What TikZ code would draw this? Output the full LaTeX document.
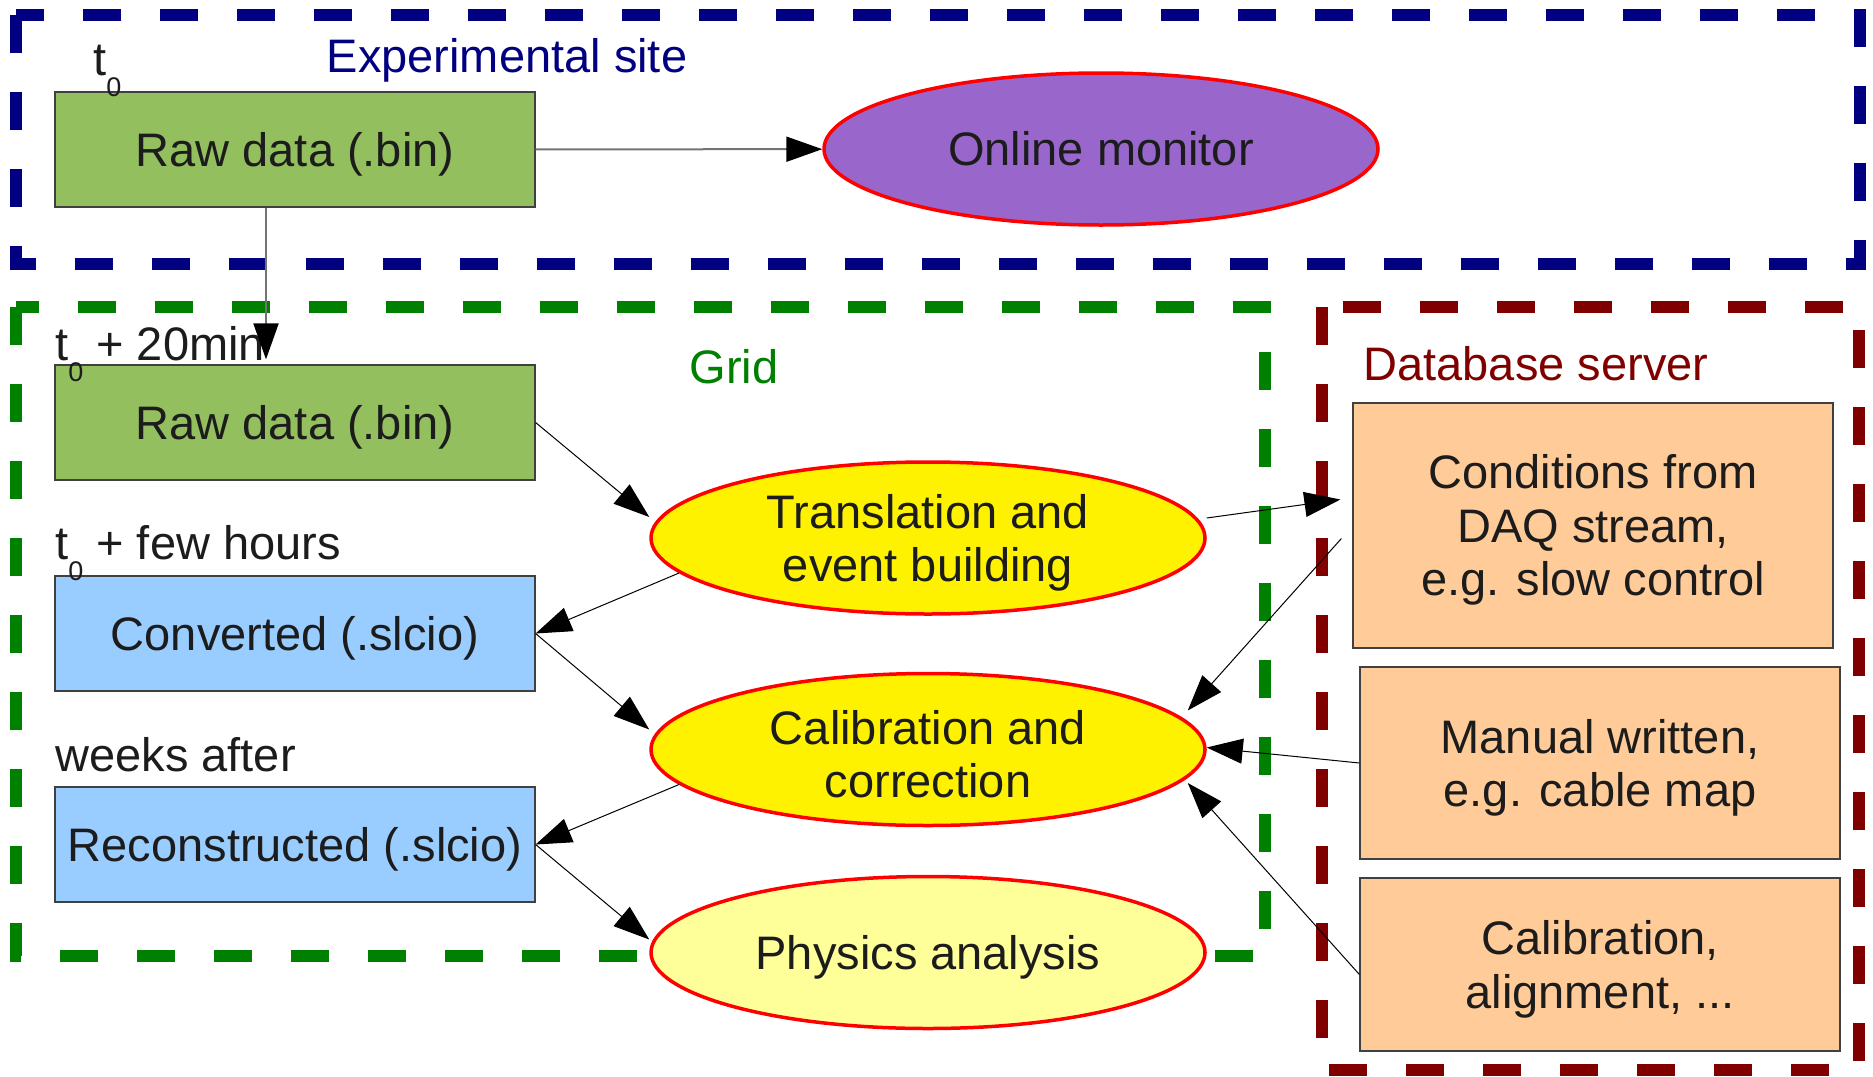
\documentclass[tikz,border=0pt]{standalone}
\usepackage{fontspec}
\setmainfont{Liberation Sans}
\usepackage{tikz}
\usetikzlibrary{shapes.geometric, arrows.meta, positioning, calc}
\definecolor{sitenavy}{HTML}{000080}
\definecolor{gridgreen}{HTML}{008000}
\definecolor{dbred}{HTML}{800000}
\definecolor{rawgreen}{HTML}{93BF5F}
\definecolor{lcioblue}{HTML}{99CCFF}
\definecolor{dbpeach}{HTML}{FFCC99}
\definecolor{monpurple}{HTML}{9966CC}
\definecolor{paleyellow}{HTML}{FFFF99}
\definecolor{inkgray}{HTML}{1C1C1C}

\newcommand{\tnull}{t\raisebox{-10.5pt}{\fontsize{13.5pt}{13.5pt}\selectfont 0}}
\newcommand{\lift}{\rule{0pt}{0.93em}}

\begin{document}
\begin{tikzpicture}[x=0.5pt, y=-0.5pt,
  font=\fontsize{23.5pt}{26.75pt}\selectfont, text=inkgray,
  frame/.style={line width=6pt, dash pattern=on 19pt off 19.5pt},
  databox/.style={rectangle, draw=black!75, line width=0.6pt, minimum width=240pt, minimum height=57.5pt, align=center, inner sep=0pt},
  job/.style={ellipse, draw=red, line width=1.75pt, fill=yellow, minimum width=277pt, minimum height=76pt, align=center, inner sep=0pt},
  link/.style={-{Triangle[length=18pt, width=12.5pt, color=black]}, black, line width=0.5pt},
  feed/.style={link, draw=black!55, line width=1pt},
  stamp/.style={anchor=base west, inner sep=0pt}]
  \useasboundingbox (0,0) rectangle (1873,1076);

  % Frames
  \draw[frame, sitenavy] (16,15) rectangle (1860,264);
  \draw[frame, gridgreen] (16,307) rectangle (1265,956);
  \draw[frame, dbred] (1322,307) rectangle (1859,1070);

  % Frame titles
  \node[text=sitenavy, anchor=base, inner sep=0pt] (sitelabel) at (507,72) {Experimental site};
  \node[text=gridgreen, anchor=base, inner sep=0pt] (gridlabel) at (734,383) {Grid};
  \node[text=dbred, anchor=base, inner sep=0pt] (dblabel) at (1536,380) {Database server};

  % Data files
  \node[databox, fill=rawgreen] (rawsite) at (295,149.5) {\lift Raw data (.bin)};
  \node[databox, fill=rawgreen] (rawgrid) at (295,422.5) {\lift Raw data (.bin)};
  \node[databox, fill=lcioblue] (conv) at (295,633.5) {\lift Converted (.slcio)};
  \node[databox, fill=lcioblue] (reco) at (295,844.5) {\lift Reconstructed (.slcio)};

  % Time stamps
  \node[stamp] (tsite) at (93,75) {\tnull};
  \node[stamp] (tgrid) at (55,360) {\tnull{} + 20min};
  \node[stamp] (tconv) at (55,559) {\tnull{} + few hours};
  \node[stamp] (treco) at (55,771) {weeks after};

  % Processing steps
  \node[job, fill=monpurple] (online) at (1101,149) {Online monitor};
  \node[job] (trans) at (928,538) {\lift Translation and\\event building};
  \node[job] (calib) at (928,749.5) {\lift Calibration and\\correction};
  \node[job, fill=paleyellow] (phys) at (928,952.5) {\lift Physics analysis};

  % Database content
  \node[databox, fill=dbpeach, minimum height=122.5pt] (cond) at (1593,525.5) {\lift Conditions from\\DAQ stream,\\e.g. slow control};
  \node[databox, fill=dbpeach, minimum height=96pt] (manual) at (1600,763) {\lift Manual written,\\e.g. cable map};
  \node[databox, fill=dbpeach, minimum height=86.5pt] (calbox) at (1600,964.5) {\lift Calibration,\\alignment, ...};

  % Data flow
  \draw[feed] (rawsite) -- (online);
  \draw[feed, shorten >=2.5pt] ([xshift=-14.5pt]rawsite.south) -- ([xshift=-14.5pt]rawgrid.north);
  \draw[link] (rawgrid.east) -- ([yshift=10.5pt]trans.west);
  \draw[link] (trans.188) -- (conv.east);
  \draw[link] (conv.east) -- ([yshift=10pt]calib.west);
  \draw[link] (calib.188) -- (reco.east);
  \draw[link] (reco.east) -- ([yshift=6.5pt]phys.west);

  % Conditions into the grid
  \draw[link] ([yshift=10pt]trans.east) -- ([xshift=-6pt,yshift=13pt]cond.west);
  \draw[link] ([xshift=-5.5pt,yshift=-6.5pt]cond.west) -- ([xshift=-9.5pt,yshift=19.5pt]calib.east);
  \draw[link] (manual.west) -- ([yshift=1pt]calib.east);
  \draw[link] ([yshift=-5pt]calbox.west) -- ([xshift=-9.5pt,yshift=-16.75pt]calib.east);
\end{tikzpicture}
\end{document}
